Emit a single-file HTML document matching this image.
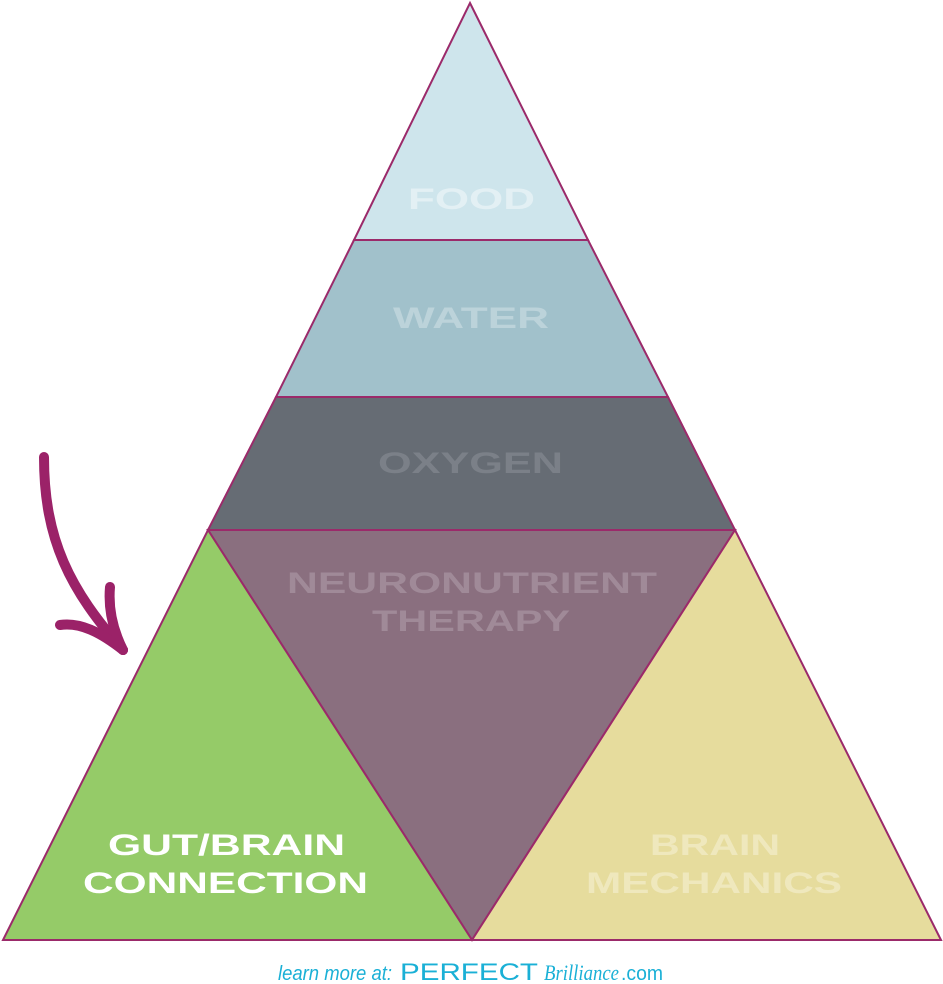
<!DOCTYPE html>
<html><head><style>html,body{margin:0;padding:0;background:#fff;width:943px;height:984px;overflow:hidden}</style></head>
<body>
<svg width="943" height="984" viewBox="0 0 943 984" xmlns="http://www.w3.org/2000/svg" style="display:block">
<g stroke="#9b2a6a" stroke-width="2" stroke-linejoin="miter">
<polygon points="470,3 588,240 354,240" fill="#cee5ec"/>
<polygon points="354,240 588,240 668,397 276,397" fill="#a1c1cb"/>
<polygon points="276,397 668,397 735,530 208,530" fill="#666c74"/>
<polygon points="208,530 735,530 472,940" fill="#8a6f7f"/>
<polygon points="208,530 472,940 3,940" fill="#95cb68"/>
<polygon points="735,530 941,940 472,940" fill="#e6dc9d"/>
</g>
<g font-family="Liberation Sans, sans-serif" font-weight="bold" font-size="30">
<text x="408" y="209" textLength="127" lengthAdjust="spacingAndGlyphs" fill="#e3f0f4">FOOD</text>
<text x="393" y="328" textLength="156" lengthAdjust="spacingAndGlyphs" fill="#bcd3da">WATER</text>
<text x="378" y="473" textLength="185" lengthAdjust="spacingAndGlyphs" fill="#7b8088">OXYGEN</text>
<text x="287" y="593" textLength="370" lengthAdjust="spacingAndGlyphs" fill="#a08a98">NEURONUTRIENT</text>
<text x="372" y="631" textLength="198" lengthAdjust="spacingAndGlyphs" fill="#a08a98">THERAPY</text>
<text x="108" y="855" textLength="237" lengthAdjust="spacingAndGlyphs" fill="#ffffff">GUT/BRAIN</text>
<text x="83" y="893" textLength="285" lengthAdjust="spacingAndGlyphs" fill="#ffffff">CONNECTION</text>
<text x="650" y="855" textLength="130" lengthAdjust="spacingAndGlyphs" fill="#efe8bd">BRAIN</text>
<text x="586" y="893" textLength="256" lengthAdjust="spacingAndGlyphs" fill="#efe8bd">MECHANICS</text>
</g>
<g stroke="#9b2268" stroke-width="10" fill="none" stroke-linecap="round" stroke-linejoin="round">
<path d="M44,457 C44,540 70,590 123,650"/>
<path d="M110,587 C108,610 113,630 123,650"/>
<path d="M60,625 C80,622 100,632 123,650"/>
</g>
<g font-family="Liberation Sans, sans-serif" fill="#1ab0d6">
<text x="278" y="980" font-size="20" font-style="italic" textLength="114" lengthAdjust="spacingAndGlyphs">learn more at:</text>
<text x="400" y="980" font-size="24" textLength="138" lengthAdjust="spacingAndGlyphs">PERFECT</text>
<text x="544" y="980" font-size="22" font-style="italic" font-family="Liberation Serif, serif" textLength="75" lengthAdjust="spacingAndGlyphs">Brilliance</text>
<text x="621" y="980" font-size="20" textLength="42" lengthAdjust="spacingAndGlyphs">.com</text>
</g>
</svg>
</body></html>
